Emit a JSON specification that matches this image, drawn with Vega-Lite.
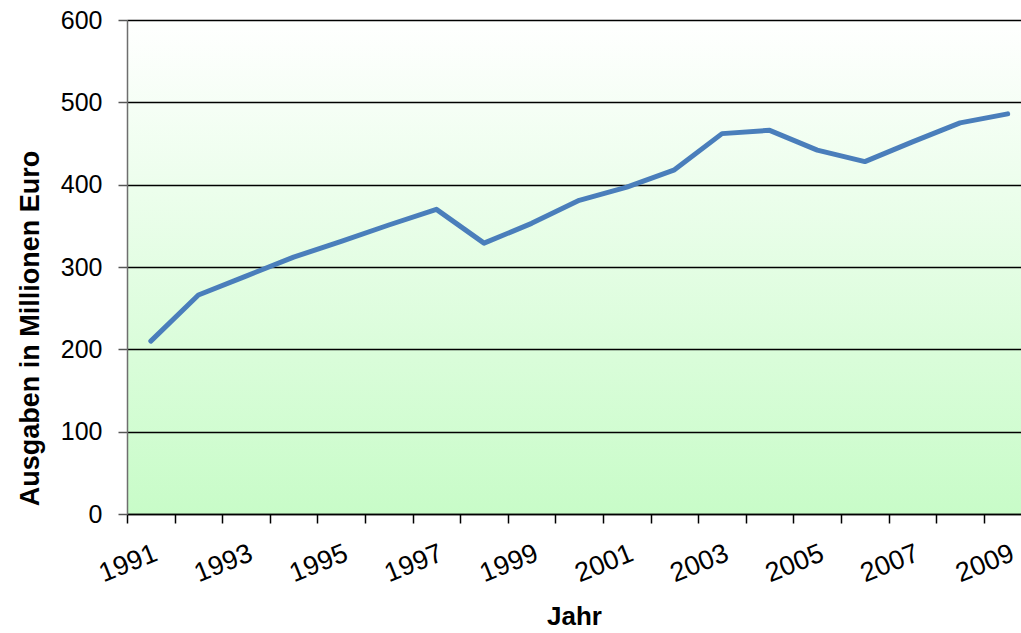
{
  "$schema": "https://vega.github.io/schema/vega-lite/v6.json",
  "width": 894,
  "height": 494,
  "autosize": {"type": "none"},
  "padding": {"left": 127, "top": 20, "right": 0, "bottom": 119},
  "background": "white",
  "config": {"font": "Liberation Sans"},
  "view": {
    "stroke": null,
    "fill": {
      "gradient": "linear",
      "x1": 0, "y1": 0, "x2": 0, "y2": 1,
      "stops": [
        {"offset": 0, "color": "#ffffff"},
        {"offset": 1, "color": "#c8fcc8"}
      ]
    }
  },
  "data": {
    "values": [
      {"Jahr": 1991, "Ausgaben": 210},
      {"Jahr": 1992, "Ausgaben": 266},
      {"Jahr": 1993, "Ausgaben": 289},
      {"Jahr": 1994, "Ausgaben": 312},
      {"Jahr": 1995, "Ausgaben": 331},
      {"Jahr": 1996, "Ausgaben": 351},
      {"Jahr": 1997, "Ausgaben": 370},
      {"Jahr": 1998, "Ausgaben": 329},
      {"Jahr": 1999, "Ausgaben": 353},
      {"Jahr": 2000, "Ausgaben": 381},
      {"Jahr": 2001, "Ausgaben": 397},
      {"Jahr": 2002, "Ausgaben": 418},
      {"Jahr": 2003, "Ausgaben": 462},
      {"Jahr": 2004, "Ausgaben": 466},
      {"Jahr": 2005, "Ausgaben": 442},
      {"Jahr": 2006, "Ausgaben": 428},
      {"Jahr": 2007, "Ausgaben": 452},
      {"Jahr": 2008, "Ausgaben": 475},
      {"Jahr": 2009, "Ausgaben": 486}
    ]
  },
  "mark": {"type": "line", "color": "#4a7ebb", "strokeWidth": 5, "strokeCap": "round", "strokeJoin": "round"},
  "encoding": {
    "x": {
      "field": "Jahr",
      "type": "quantitative",
      "scale": {"domain": [1990.5, 2009.28], "nice": false, "zero": false},
      "axis": {
        "values": [1990.5, 1991.5, 1992.5, 1993.5, 1994.5, 1995.5, 1996.5, 1997.5, 1998.5, 1999.5, 2000.5, 2001.5, 2002.5, 2003.5, 2004.5, 2005.5, 2006.5, 2007.5, 2008.5],
        "labelExpr": "(datum.value + 0.5) % 2 == 1 ? '' + (datum.value + 0.5) : ''",
        "labelOffset": 23.8,
        "labelAngle": -22,
        "labelAlign": "right",
        "labelBaseline": "top",
        "labelPadding": 17,
        "labelOverlap": false,
        "labelBound": false,
        "labelFlush": false,
        "labelFontSize": 27,
        "labelColor": "black",
        "tickSize": 9,
        "tickColor": "black",
        "tickWidth": 1.5,
        "domainColor": "black",
        "domainWidth": 1.5,
        "grid": false,
        "title": "Jahr",
        "titleFontSize": 26,
        "titleFontWeight": "bold",
        "titleColor": "black",
        "titleBaseline": "alphabetic",
        "titleY": 110
      }
    },
    "y": {
      "field": "Ausgaben",
      "type": "quantitative",
      "scale": {"domain": [0, 600], "nice": false},
      "axis": {
        "values": [0, 100, 200, 300, 400, 500, 600],
        "grid": true,
        "gridColor": "black",
        "gridWidth": 1.5,
        "tickSize": 9,
        "tickColor": "#555555",
        "tickWidth": 1.5,
        "domainColor": "#6e6e6e",
        "domainWidth": 1.5,
        "labelFontSize": 25,
        "labelColor": "black",
        "labelPadding": 16,
        "title": "Ausgaben in Millionen Euro",
        "titleFontSize": 27,
        "titleFontWeight": "bold",
        "titleColor": "black",
        "titleAngle": -90,
        "titleAlign": "center",
        "titleBaseline": "alphabetic",
        "titleX": -89,
        "titleY": 308
      }
    }
  }
}
